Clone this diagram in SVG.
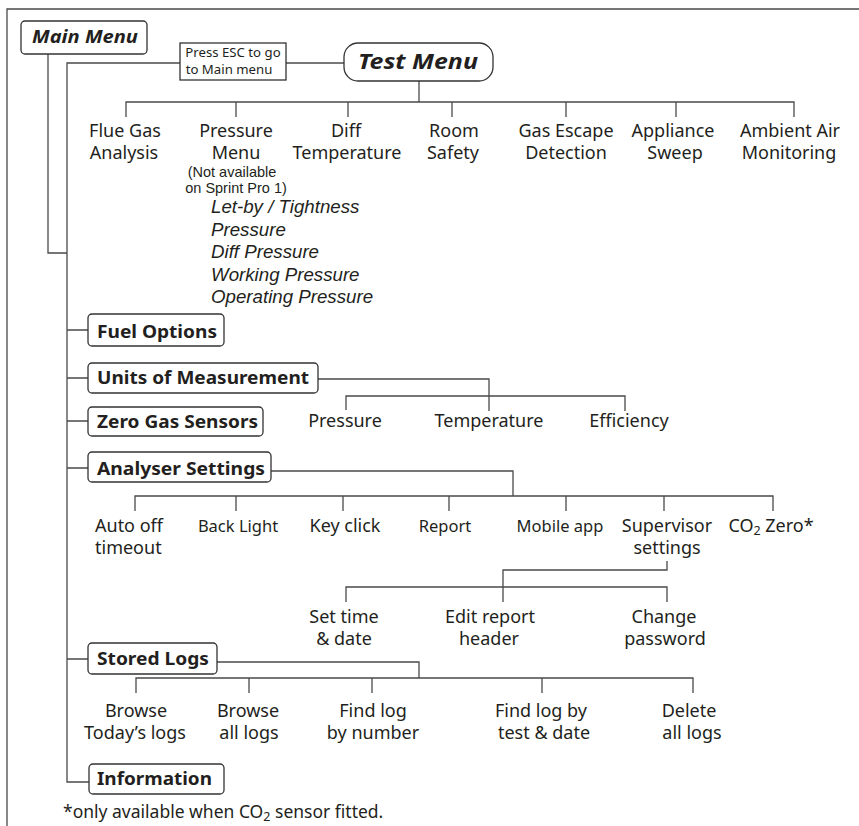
<svg xmlns="http://www.w3.org/2000/svg" width="859" height="826" viewBox="0 0 859 826">
<style>
.ln{fill:none;stroke:#4a4a4a;stroke-width:1.3}
.bx{fill:#fff;stroke:#333;stroke-width:1.3}
text{font-family:"Noto Sans","Open Sans","Liberation Sans",sans-serif;fill:#231f20}
.t{font-size:18px;text-anchor:middle}
.st{font-size:18px;text-anchor:start}
.s{font-size:16.5px;text-anchor:middle}
.b{font-size:18px;font-weight:bold}
.bi{font-weight:bold;font-style:italic}
.it{font-size:18.7px;font-style:italic;font-family:"Liberation Sans","Noto Sans",sans-serif}
.sm{font-size:13.2px;text-anchor:middle}
.nt{font-size:14.5px;text-anchor:middle;font-family:"Liberation Sans","Noto Sans",sans-serif}
</style>
<rect width="859" height="826" fill="#fff"/>
<g id="connectors" class="ln">
<path d="M7,826 V9 H859"/>
<path d="M48,54 V253 H67"/>
<path d="M180,63 H67 V782 H89"/>
<path d="M286,63 H344"/>
<path d="M419,81 V102"/>
<path d="M126,117 V102 H794 V117 M236,102 V117 M348,102 V117 M452,102 V117 M566,102 V117 M676,102 V117"/>
<path d="M67,330 H88 M67,378 H88 M67,421 H88 M67,468 H88 M67,659 H88"/>
<path d="M318,379 H489 V396 M346,410 V396 H625 V411 M489,396 V411"/>
<path d="M271,471 H513 V496 M135,511 V496 H773 V511 M236,496 V511 M343,496 V511 M449,496 V511 M566,496 V511 M664,496 V511"/>
<path d="M667,561 V570 H503 V587 M346,602 V587 H667 V602 M503,587 V602"/>
<path d="M217,662 H419 V678 M136,693 V678 H693 V693 M249,678 V693 M372,678 V693 M542,678 V693"/>
</g>
<g id="main-menu"><rect class="bx" x="21" y="21" width="126" height="33" rx="4"/><text class="bi" x="32" y="43" font-size="18" textLength="106" lengthAdjust="spacingAndGlyphs">Main Menu</text></g>
<g id="esc-note"><rect class="bx" x="180" y="43" width="106" height="37"/><text class="sm" x="233" y="57">Press ESC to go</text><text class="sm" x="229" y="74">to Main menu</text></g>
<g id="test-menu"><rect class="bx" x="344" y="43" width="149" height="38" rx="14"/><text class="bi" x="358" y="69" font-size="22" textLength="120" lengthAdjust="spacingAndGlyphs">Test Menu</text></g>
<g id="flue-gas"><text class="t" x="125" y="137">Flue Gas</text><text class="t" x="124" y="159">Analysis</text></g>
<g id="pressure-menu"><text class="t" x="236" y="137">Pressure</text><text class="t" x="236" y="159">Menu</text><text class="nt" x="232" y="177">(Not available</text><text class="nt" x="236" y="193">on Sprint Pro 1)</text>
<text class="it" x="211" y="213">Let-by / Tightness</text><text class="it" x="211" y="236">Pressure</text><text class="it" x="211" y="258">Diff Pressure</text><text class="it" x="211" y="281">Working Pressure</text><text class="it" x="211" y="303">Operating Pressure</text></g>
<g id="diff-temp"><text class="t" x="346" y="137">Diff</text><text class="t" x="347" y="159">Temperature</text></g>
<g id="room-safety"><text class="t" x="454" y="137">Room</text><text class="t" x="453" y="159">Safety</text></g>
<g id="gas-escape"><text class="t" x="566" y="137">Gas Escape</text><text class="t" x="566" y="159">Detection</text></g>
<g id="appliance"><text class="t" x="673" y="137">Appliance</text><text class="t" x="675" y="159">Sweep</text></g>
<g id="ambient"><text class="t" x="790" y="137">Ambient Air</text><text class="t" x="789" y="159">Monitoring</text></g>
<g id="fuel-options"><rect class="bx" x="88" y="314" width="136" height="32" rx="4"/><text class="b" x="97" y="338" textLength="120" lengthAdjust="spacingAndGlyphs">Fuel Options</text></g>
<g id="units"><rect class="bx" x="88" y="363" width="230" height="30" rx="4"/><text class="b" x="97" y="384" textLength="212" lengthAdjust="spacingAndGlyphs">Units of Measurement</text></g>
<g id="u-pressure"><text class="t" x="345" y="427">Pressure</text></g>
<g id="u-temp"><text class="t" x="489" y="427">Temperature</text></g>
<g id="u-eff"><text class="t" x="629" y="427">Efficiency</text></g>
<g id="zero-gas"><rect class="bx" x="88" y="407" width="175" height="29" rx="4"/><text class="b" x="97" y="428" textLength="161" lengthAdjust="spacingAndGlyphs">Zero Gas Sensors</text></g>
<g id="analyser"><rect class="bx" x="88" y="452" width="183" height="30" rx="4"/><text class="b" x="97" y="475" textLength="168" lengthAdjust="spacingAndGlyphs">Analyser Settings</text></g>
<g id="auto-off"><text class="st" x="95" y="532">Auto off</text><text class="st" x="95" y="554">timeout</text></g>
<g id="back-light"><text class="s" x="238" y="532">Back Light</text></g>
<g id="key-click"><text class="t" x="345" y="532">Key click</text></g>
<g id="report"><text class="s" x="445" y="532">Report</text></g>
<g id="mobile-app"><text class="s" x="560" y="532">Mobile app</text></g>
<g id="supervisor"><text class="t" x="667" y="532">Supervisor</text><text class="t" x="667" y="554">settings</text></g>
<g id="co2-zero"><text class="t" x="771" y="532">CO<tspan font-size="12.5" dy="3">2</tspan><tspan dy="-3"> Zero*</tspan></text></g>
<g id="set-time"><text class="t" x="344" y="623">Set time</text><text class="t" x="344" y="645">&amp; date</text></g>
<g id="edit-report"><text class="t" x="490" y="623">Edit report</text><text class="t" x="489" y="645">header</text></g>
<g id="change-pw"><text class="t" x="664" y="623">Change</text><text class="t" x="665" y="645">password</text></g>
<g id="stored-logs"><rect class="bx" x="88" y="643" width="129" height="31" rx="4"/><text class="b" x="97" y="665" textLength="112" lengthAdjust="spacingAndGlyphs">Stored Logs</text></g>
<g id="browse-today"><text class="t" x="136" y="717">Browse</text><text class="t" x="135" y="739">Today’s logs</text></g>
<g id="browse-all"><text class="t" x="248" y="717">Browse</text><text class="t" x="249" y="739">all logs</text></g>
<g id="find-number"><text class="t" x="373" y="717">Find log</text><text class="t" x="373" y="739">by number</text></g>
<g id="find-test"><text class="t" x="541" y="717">Find log by</text><text class="t" x="544" y="739">test &amp; date</text></g>
<g id="delete-all"><text class="t" x="689" y="717">Delete</text><text class="t" x="692" y="739">all logs</text></g>
<g id="information"><rect class="bx" x="89" y="764" width="135" height="30" rx="4"/><text class="b" x="97" y="785" textLength="115" lengthAdjust="spacingAndGlyphs">Information</text></g>
<g id="footnote"><text x="63" y="818" font-size="17.5">*only available when CO<tspan font-size="12.5" dy="3">2</tspan><tspan dy="-3"> sensor fitted.</tspan></text></g>
</svg>
